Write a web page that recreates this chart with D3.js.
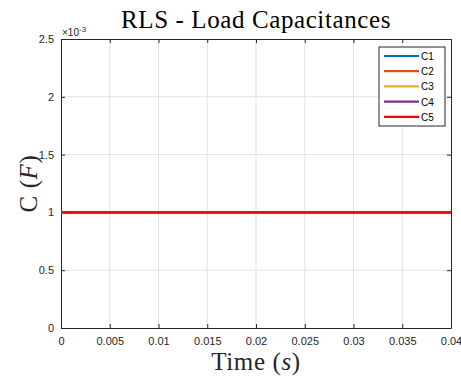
<!DOCTYPE html>
<html>
<head>
<meta charset="utf-8">
<script src="https://cdn.jsdelivr.net/npm/d3@7"></script>
<style>
  body { margin: 0; background: #fff; }
  svg { display: block; }
  .tick text { font-family: "Liberation Sans", Arial, sans-serif; font-size: 11px; fill: #262626; }
</style>
</head>
<body>
<svg id="chart" width="461" height="378"></svg>
<script>
// data
const seriesNames = ['C1', 'C2', 'C3', 'C4', 'C5'];
const seriesColors = ['#0072BD', '#D95319', '#EDB120', '#7E2F8E', '#FF0000'];
const timePoints = [0, 0.005, 0.01, 0.015, 0.02, 0.025, 0.03, 0.035, 0.04];
const capValues = [
    [1e-3, 1e-3, 1e-3, 1e-3, 1e-3, 1e-3, 1e-3, 1e-3, 1e-3],
    [1e-3, 1e-3, 1e-3, 1e-3, 1e-3, 1e-3, 1e-3, 1e-3, 1e-3],
    [1e-3, 1e-3, 1e-3, 1e-3, 1e-3, 1e-3, 1e-3, 1e-3, 1e-3],
    [1e-3, 1e-3, 1e-3, 1e-3, 1e-3, 1e-3, 1e-3, 1e-3, 1e-3],
    [1e-3, 1e-3, 1e-3, 1e-3, 1e-3, 1e-3, 1e-3, 1e-3, 1e-3]
];
const xTicks = [0, 0.005, 0.01, 0.015, 0.02, 0.025, 0.03, 0.035, 0.04];
const xTickLabels = ['0', '0.005', '0.01', '0.015', '0.02', '0.025', '0.03', '0.035', '0.04'];
const yTicks = [0, 0.5e-3, 1e-3, 1.5e-3, 2e-3, 2.5e-3];
const yTickLabels = ['0', '0.5', '1', '1.5', '2', '2.5'];

const svg = d3.select('#chart');
const pLeft = 61, pRight = 451, pTop = 39, pBottom = 328;

const x = d3.scaleLinear().domain([0, 0.04]).range([pLeft, pRight]);
const y = d3.scaleLinear().domain([0, 2.5e-3]).range([pBottom, pTop]);

// grid
svg.append('g').selectAll('line').data(xTicks.slice(1, -1)).join('line')
    .attr('x1', d => x(d)).attr('x2', d => x(d))
    .attr('y1', pTop).attr('y2', pBottom)
    .attr('stroke', '#e3e3e3').attr('stroke-width', 1);
svg.append('g').selectAll('line').data(yTicks.slice(1, -1)).join('line')
    .attr('y1', d => y(d)).attr('y2', d => y(d))
    .attr('x1', pLeft).attr('x2', pRight)
    .attr('stroke', '#e3e3e3').attr('stroke-width', 1);

// axes
const xAxis = d3.axisBottom(x).tickValues(xTicks).tickFormat((d, i) => xTickLabels[i]).tickSizeInner(-4).tickSizeOuter(0).tickPadding(9);
const yAxis = d3.axisLeft(y).tickValues(yTicks).tickFormat((d, i) => yTickLabels[i]).tickSizeInner(-4).tickSizeOuter(0).tickPadding(7);
const xTop = d3.axisTop(x).tickValues(xTicks).tickFormat('').tickSizeInner(-4).tickSizeOuter(0);
const yRight = d3.axisRight(y).tickValues(yTicks).tickFormat('').tickSizeInner(-4).tickSizeOuter(0);

[
    [xAxis, `translate(0,${pBottom})`],
    [yAxis, `translate(${pLeft},0)`],
    [xTop, `translate(0,${pTop})`],
    [yRight, `translate(${pRight},0)`]
].forEach(([ax, tr]) => {
    const g = svg.append('g').attr('transform', tr).call(ax);
    g.select('.domain').attr('stroke', '#262626').attr('stroke-width', 1);
    g.selectAll('.tick line').attr('stroke', '#262626');
});

// lines
const line = d3.line().x((d, i) => x(timePoints[i])).y(d => y(d));
svg.append('g').selectAll('path').data(capValues).join('path')
    .attr('d', d => line(d))
    .attr('fill', 'none')
    .attr('stroke', (d, i) => seriesColors[i])
    .attr('stroke-width', 2.2);

// exponent
const ex = svg.append('text').attr('x', pLeft + 1).attr('y', 36)
    .attr('font-family', '"Liberation Sans", Arial, sans-serif').attr('font-size', 10).attr('fill', '#262626');
ex.append('tspan').text('\u00d710');
ex.append('tspan').attr('dy', -4).attr('font-size', 8).text('-3');

// title
svg.append('text').attr('x', (pLeft + pRight) / 2).attr('y', 28)
    .attr('text-anchor', 'middle')
    .attr('font-family', '"Liberation Serif", "DejaVu Serif", serif')
    .attr('font-size', 25).attr('letter-spacing', 0.6).attr('fill', '#000')
    .text('RLS - Load Capacitances');

// x label
const xl = svg.append('text').attr('x', (pLeft + pRight) / 2).attr('y', 370)
    .attr('text-anchor', 'middle')
    .attr('font-family', '"Liberation Serif", "DejaVu Serif", serif')
    .attr('font-size', 25).attr('letter-spacing', 0.6).attr('fill', '#262626');
xl.append('tspan').text('Time (');
xl.append('tspan').attr('font-style', 'italic').text('s');
xl.append('tspan').text(')');

// y label
const yl = svg.append('text').attr('transform', `translate(37,${(pTop + pBottom) / 2}) rotate(-90)`)
    .attr('text-anchor', 'middle')
    .attr('font-family', '"Liberation Serif", "DejaVu Serif", serif')
    .attr('font-size', 25).attr('letter-spacing', 0.6).attr('fill', '#262626');
yl.append('tspan').text('C (');
yl.append('tspan').attr('font-style', 'italic').text('F');
yl.append('tspan').text(')');

// legend
const lg = svg.append('g');
lg.append('rect').attr('x', 379).attr('y', 47).attr('width', 66).attr('height', 79)
    .attr('fill', '#fff').attr('stroke', '#262626').attr('stroke-width', 1);
const items = lg.selectAll('g.item').data(seriesNames).join('g')
    .attr('transform', (d, i) => `translate(0,${56 + i * 15.2})`);
items.append('line').attr('x1', 384).attr('x2', 419).attr('y1', 0).attr('y2', 0)
    .attr('stroke', (d, i) => seriesColors[i]).attr('stroke-width', 2.2);
items.append('text').attr('x', 421).attr('y', 4)
    .attr('font-family', '"Liberation Sans", Arial, sans-serif').attr('font-size', 10).attr('fill', '#000')
    .text(d => d);
</script>
</body>
</html>
